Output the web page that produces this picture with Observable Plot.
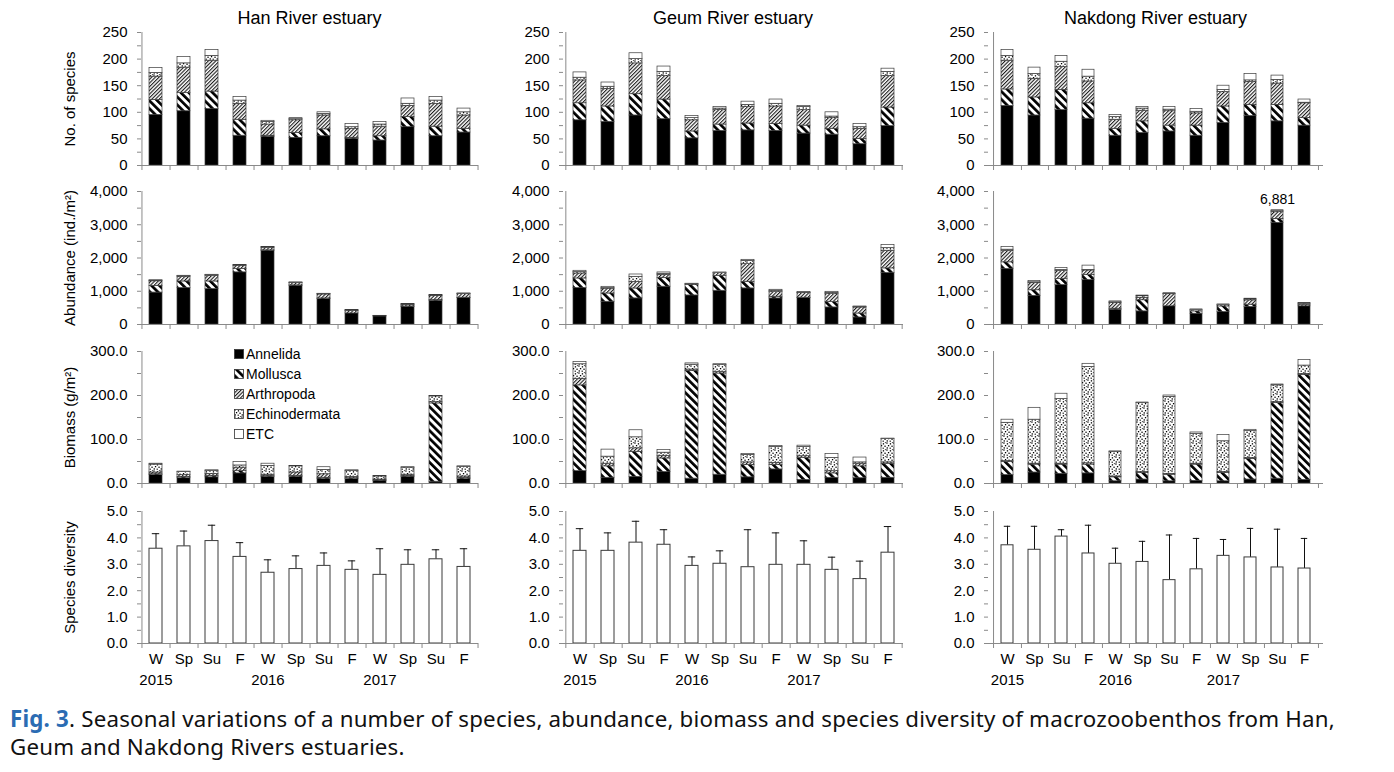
<!DOCTYPE html>
<html><head><meta charset="utf-8">
<script src="https://cdn.jsdelivr.net/npm/d3@7"></script>
<script src="https://cdn.jsdelivr.net/npm/@observablehq/plot@0.6"></script>
<style>
body{margin:0;background:#fff;}
#root{position:relative;width:1394px;height:772px;overflow:hidden;font-family:"Liberation Sans",Arial,sans-serif;background:#fff;}
.title{position:absolute;top:8px;font-size:18px;white-space:nowrap;transform:translateX(-50%);color:#000;}
#legend{position:absolute;left:234px;top:344px;font-size:14px;line-height:20px;}
#legend div{display:flex;align-items:center;height:20px;}
#legend svg{margin-right:2px;}
#caption{position:absolute;left:10px;top:705px;font-family:"Noto Sans",sans-serif;font-size:22.3px;letter-spacing:0.2px;line-height:28px;color:#111;white-space:nowrap;}
#caption b{color:#2b6cb3;font-weight:700;}
</style></head>
<body>
<svg width="0" height="0" style="position:absolute">
<defs>
<pattern id="pMoll" patternUnits="userSpaceOnUse" width="5.6" height="5.6" patternTransform="rotate(-45)">
<rect width="5.6" height="5.6" fill="#fff"/><rect width="2.7" height="5.6" fill="#000"/></pattern>
<pattern id="pArth" patternUnits="userSpaceOnUse" width="2.6" height="2.6" patternTransform="rotate(45)">
<rect width="2.6" height="2.6" fill="#fff"/><rect width="1.1" height="2.6" fill="#1a1a1a"/></pattern>
<pattern id="pEchi" patternUnits="userSpaceOnUse" width="7" height="7">
<rect width="7" height="7" fill="#fff"/>
<rect x="0.3" y="0.4" width="1.3" height="1.3" fill="#000"/>
<rect x="3.8" y="1.2" width="1.3" height="1.3" fill="#000"/>
<rect x="1.9" y="3.0" width="1.3" height="1.3" fill="#000"/>
<rect x="5.4" y="3.6" width="1.3" height="1.3" fill="#000"/>
<rect x="0.6" y="5.3" width="1.3" height="1.3" fill="#000"/>
<rect x="3.6" y="5.6" width="1.2" height="1.2" fill="#000"/>
<rect x="5.9" y="0.2" width="0.9" height="0.9" fill="#000"/>
</pattern>
</defs></svg>
<div id="root"></div>
<script>
// ---------- categories ----------
const seasons = ["W","Sp","Su","F","W","Sp","Su","F","W","Sp","Su","F"];
const years   = ["2015","2015","2015","2015","2016","2016","2016","2016","2017","2017","2017","2017"];
const rivers  = ["Han River estuary","Geum River estuary","Nakdong River estuary"];
const taxa    = ["Annelida","Mollusca","Arthropoda","Echinodermata","ETC"];
const taxonFills = ["#000","url(#pMoll)","url(#pArth)","url(#pEchi)","#fff"];

// ---------- No. of species (rows: Annelida, Mollusca, Arthropoda, Echinodermata, ETC) ----------
const hanSpecies = [
  [95,102,106,56,54,52,55,50,47,72,55,62],
  [28,34,33,30,2,9,13,2,8,19,18,7],
  [44,48,58,30,21,24,26,17,18,21,43,25],
  [7,8,9,6,5,2,3,3,4,4,6,6],
  [9,12,11,7,2,2,3,6,5,10,7,7]];
const geumSpecies = [
  [85,82,94,87,51,65,66,65,60,58,40,74],
  [32,29,40,37,13,12,13,13,15,11,10,35],
  [43,33,58,44,21,27,31,33,29,20,19,59],
  [5,4,8,8,4,3,4,5,6,3,3,8],
  [10,8,11,10,4,3,6,8,2,8,6,6]];
const nakdongSpecies = [
  [112,94,104,88,56,61,64,56,80,93,83,75],
  [31,34,38,29,13,22,11,19,31,21,31,14],
  [54,35,43,41,17,20,27,23,27,43,40,28],
  [9,9,10,9,5,4,3,3,4,3,7,1],
  [11,12,11,13,4,3,5,5,8,12,8,6]];

// ---------- Abundance (ind./m2) ----------
const hanAbundance = [
  [960,1095,1065,1568,2220,1166,764,332,241,533,713,794],
  [200,200,230,100,10,10,20,0,0,10,20,10],
  [140,140,170,100,80,70,120,70,10,50,130,110],
  [20,20,20,10,10,10,10,20,0,10,10,10],
  [10,10,10,10,10,10,10,10,10,10,10,10]];
const geumAbundance = [
  [1095,683,784,1136,874,1015,1085,784,794,513,211,1548],
  [290,250,300,260,312,450,200,50,10,160,120,140],
  [150,130,200,100,30,80,530,140,140,240,180,530],
  [40,30,150,30,0,0,100,40,10,40,20,80],
  [40,40,70,40,10,20,30,30,20,30,10,90]];
const nakdongAbundance = [
  [1670,860,1184,1336,445,395,547,324,374,526,3057,547],
  [200,170,180,150,30,335,0,70,170,70,120,0],
  [350,220,245,140,170,70,365,0,40,130,200,50],
  [30,20,30,15,20,50,10,40,0,30,30,30],
  [80,35,60,130,30,20,20,20,20,20,30,20]];
const nakdongAbundanceNote = [{season: 10, label: "6,881"}];

// ---------- Biomass (g/m2) ----------
const hanBiomass = [
  [19,12,14,23,15,15,10,10,6,15,4,10],
  [2,3,3,5,2,2,3,2,1,2,178,3],
  [4,4,5,8,3,8,8,3,2,3,3,3],
  [18,7,7,5,20,14,10,14,7,16,13,22],
  [2,1,1,8,5,1,6,1,1,1,1,1]];
const geumBiomass = [
  [28,13,15,26,11,20,14,32,8,13,12,13],
  [195,26,57,31,245,230,28,10,50,10,27,32],
  [15,6,8,6,3,4,6,5,4,5,6,3],
  [33,16,25,7,11,16,17,36,21,30,3,53],
  [5,16,16,6,3,1,2,2,3,9,11,1]];
const nakdongBiomass = [
  [19,25,22,23,5,9,5,6,5,9,11,8],
  [30,18,21,20,9,15,15,37,19,47,172,239],
  [2,2,2,3,2,2,2,2,2,2,2,2],
  [87,100,147,219,56,157,175,68,70,61,38,19],
  [7,27,12,7,1,1,3,3,14,3,2,13]];

// ---------- Species diversity (mean, SD) ----------
const hanDivMean = [3.59,3.68,3.88,3.28,2.68,2.82,2.94,2.79,2.60,2.98,3.19,2.90];
const hanDivSD   = [0.57,0.58,0.60,0.54,0.49,0.50,0.49,0.34,0.99,0.57,0.36,0.69];
const geumDivMean = [3.51,3.51,3.82,3.74,2.94,3.02,2.89,2.98,2.98,2.79,2.44,3.44];
const geumDivSD   = [0.84,0.68,0.81,0.57,0.34,0.49,1.42,1.21,0.91,0.48,0.68,0.99];
const nakdongDivMean = [3.72,3.55,4.05,3.41,3.02,3.09,2.40,2.81,3.32,3.26,2.88,2.84];
const nakdongDivSD   = [0.72,0.89,0.26,1.07,0.59,0.78,1.71,1.17,0.62,1.10,1.45,1.14];

// ---------- tick values ----------
const speciesTicks = [0,50,100,150,200,250], speciesMinor = [25,75,125,175,225];
const abundanceTicks = [0,1000,2000,3000,4000], abundanceMinor = [500,1500,2500,3500];
const biomassTicks = [0,100,200,300], biomassMinor = [50,150,250];
const diversityTicks = [0,1,2,3,4,5], diversityMinor = [0.5,1.5,2.5,3.5,4.5];

// ---------- assemble ----------
const ids = seasons.map((s, i) => years[i] + " " + s);
function tidy(matrix) {
  const rows = [];
  ids.forEach((id, i) => taxa.forEach((t, k) => rows.push({id, taxon: t, value: matrix[k][i]})));
  return rows;
}
const stackedData = [
  [hanSpecies, geumSpecies, nakdongSpecies],
  [hanAbundance, geumAbundance, nakdongAbundance],
  [hanBiomass, geumBiomass, nakdongBiomass]];
const divData = [[hanDivMean, hanDivSD], [geumDivMean, geumDivSD], [nakdongDivMean, nakdongDivSD]];

const rowCfg = [
  {domain: [0,250], ticks: speciesTicks, minor: speciesMinor, format: d3.format("d"), label: "No. of species"},
  {domain: [0,4000], ticks: abundanceTicks, minor: abundanceMinor, format: d3.format(","), label: "Abundance (ind./m²)"},
  {domain: [0,300], ticks: biomassTicks, minor: biomassMinor, format: d3.format(".1f"), label: "Biomass (g/m²)"},
  {domain: [0,5], ticks: diversityTicks, minor: diversityMinor, format: d3.format(".1f"), label: "Species diversity"}];

const colFrames = [[141,478],[563,903],[988,1323]];
const rowFrames = [[32,165],[191,324],[351,483],[511,643]];
const axisColor = "#8a8a8a";
const root = document.getElementById("root");

function panel(r, c) {
  const [x0, x1] = colFrames[c], [y0, y1] = rowFrames[r];
  const ml = c === 0 ? 100 : 62, mr = 8, mt = 14, mb = r === 3 ? 62 : 14;
  const W = x1 - x0, step = W / ids.length;
  const cfg = rowCfg[r];
  const marks = [];
  if (r < 3) {
    marks.push(Plot.barY(tidy(stackedData[r][c]), {x: "id", y: "value", fill: "taxon", stroke: "#3a3a3a", strokeWidth: 0.7}));
    if (r === 1 && c === 2) {
      const m = nakdongAbundance;
      const notes = nakdongAbundanceNote.map(n => ({id: ids[n.season], top: d3.sum(m, row => row[n.season]), label: n.label}));
      marks.push(Plot.text(notes, {x: "id", y: "top", text: "label", dy: -11, fontSize: 14}));
    }
  } else {
    const [mean, sd] = divData[c];
    const dd = ids.map((id, i) => ({id, mean: mean[i], upper: mean[i] + sd[i]}));
    marks.push(
      Plot.ruleX(dd, {x: "id", y1: "mean", y2: "upper", stroke: "#111", strokeWidth: 1}),
      Plot.tickY(dd, {x: "id", y: "upper", stroke: "#111", strokeWidth: 1, insetLeft: 2.8, insetRight: 2.8}),
      Plot.barY(dd, {x: "id", y: "mean", fill: "#fff", stroke: "#3a3a3a", strokeWidth: 1}),
      Plot.axisX({tickSize: 0, tickPadding: 10, tickFormat: id => seasons[ids.indexOf(id)], fontSize: 15, label: null}),
      Plot.text(ids.filter((id, i) => seasons[i] === "W"), {x: d => d, text: d => years[ids.indexOf(d)], frameAnchor: "bottom", lineAnchor: "top", dy: 31, fontSize: 15})
    );
  }
  marks.push(
    Plot.ruleY([0], {stroke: axisColor}),
    Plot.ruleX([ids[0]], {x: d => d, dx: -step / 2, stroke: axisColor, insetBottom: -5}),
    Plot.ruleX(ids, {x: d => d, dx: step / 2, y1: 0, y2: 0, insetBottom: -5, stroke: axisColor}),
    Plot.axisY({ticks: cfg.minor, tickSize: 4, tickFormat: () => "", stroke: axisColor, label: null}),
    Plot.axisY({ticks: cfg.ticks, tickSize: 4, tickPadding: 10, tickFormat: cfg.format, stroke: axisColor, fill: "#000", fontSize: 15,
      label: c === 0 ? cfg.label : null, labelAnchor: "center", labelOffset: 77, labelArrow: "none"})
  );
  const svg = Plot.plot({
    width: W + ml + mr, height: (y1 - y0) + mt + mb,
    marginLeft: ml, marginRight: mr, marginTop: mt, marginBottom: mb,
    style: {fontFamily: "Liberation Sans, Arial, sans-serif", fontSize: "15px", color: "#000", background: "transparent", overflow: "visible"},
    x: {type: "band", domain: ids, paddingInner: 0.55, paddingOuter: 0.275, ...(r < 3 ? {axis: null} : {}), label: null},
    y: {domain: cfg.domain, label: null},
    color: {domain: taxa, range: taxonFills},
    marks
  });
  svg.style.position = "absolute";
  svg.style.left = (x0 - ml) + "px";
  svg.style.top = (y0 - mt) + "px";
  root.appendChild(svg);
}
for (let r = 0; r < 4; r++) for (let c = 0; c < 3; c++) panel(r, c);

// titles
rivers.forEach((name, c) => {
  const d = document.createElement("div");
  d.className = "title";
  d.textContent = name;
  d.style.left = ((colFrames[c][0] + colFrames[c][1]) / 2) + "px";
  root.appendChild(d);
});

// legend
const legend = document.createElement("div");
legend.id = "legend";
taxa.forEach((t, k) => {
  const item = document.createElement("div");
  item.innerHTML = `<svg width="10" height="10"><rect x="0.5" y="0.5" width="9" height="9" fill="${taxonFills[k]}" stroke="#333" stroke-width="0.8"/></svg><span>${t}</span>`;
  legend.appendChild(item);
});
root.appendChild(legend);

// caption
const cap = document.createElement("div");
cap.id = "caption";
cap.innerHTML = "<b>Fig. 3</b>. Seasonal variations of a number of species, abundance, biomass and species diversity of macrozoobenthos from Han,<br>Geum and Nakdong Rivers estuaries.";
root.appendChild(cap);
</script>
</body></html>
